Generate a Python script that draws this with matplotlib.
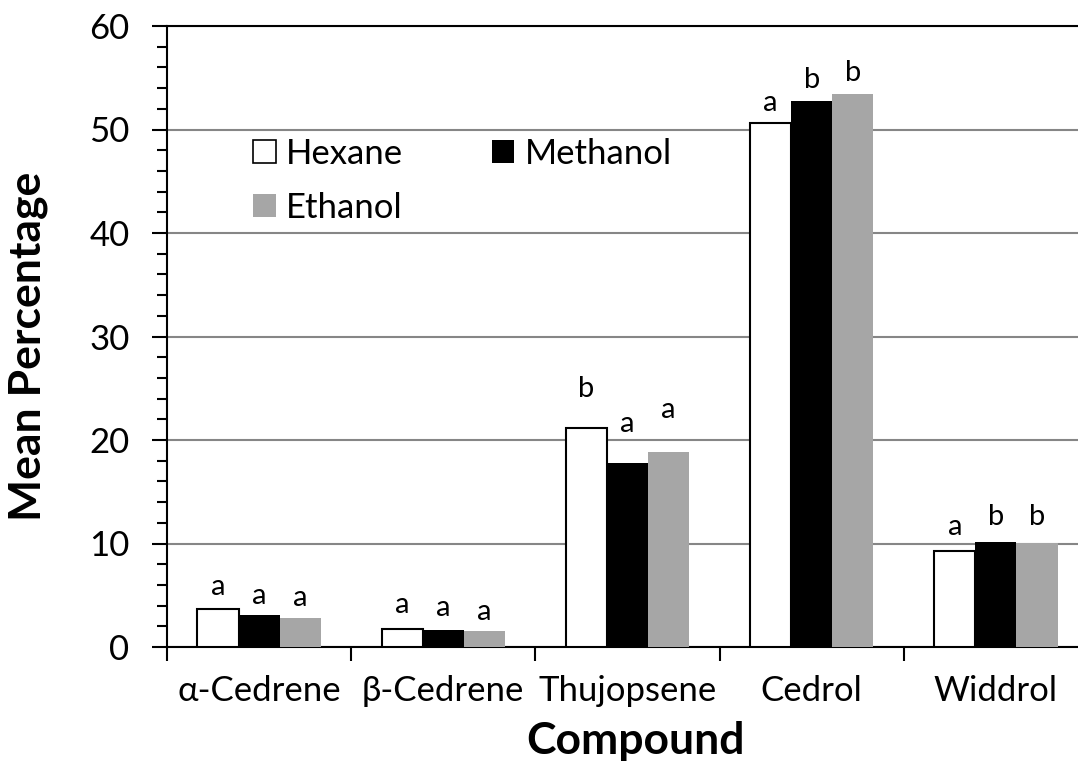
import numpy as np
import matplotlib
matplotlib.use("Agg")
import matplotlib.pyplot as plt
from matplotlib.patches import Patch

plt.rcParams['font.family'] = ['Lato', 'DejaVu Sans']

# Data
compounds = ["α-Cedrene", "β-Cedrene", "Thujopsene", "Cedrol", "Widdrol"]
solvents = ["Hexane", "Methanol", "Ethanol"]
hexane = [3.7, 1.7, 21.2, 50.6, 9.3]
methanol = [3.05, 1.6, 17.8, 52.8, 10.15]
ethanol = [2.8, 1.5, 18.85, 53.4, 10.05]

# significance letters and the height they sit at
hexane_letters = ["a", "a", "b", "a", "a"]
methanol_letters = ["a", "a", "a", "b", "b"]
ethanol_letters = ["a", "a", "a", "b", "b"]
hexane_label_y = [5.8, 4.05, 24.9, 52.6, 11.6]
methanol_label_y = [4.95, 3.75, 21.5, 54.8, 12.6]
ethanol_label_y = [4.75, 3.4, 22.9, 55.5, 12.6]

fig = plt.figure(figsize=(10.78, 7.61), dpi=100)
ax = fig.add_axes([167 / 1078, 114 / 761, 921 / 1078, 621 / 761])

x = np.arange(len(compounds))
w = 0.223
series = [
    (hexane, "white", "black", 1.5, hexane_letters, hexane_label_y),
    (methanol, "black", "black", 0, methanol_letters, methanol_label_y),
    (ethanol, "#a6a6a6", "#a6a6a6", 0, ethanol_letters, ethanol_label_y),
]
handles = []
for k, (vals, fc, ec, lw, letters, ly) in enumerate(series):
    pos = x + (k - 1) * w
    ax.bar(pos, vals, width=w, color=fc, edgecolor=ec, linewidth=lw, zorder=3)
    for xp, lt, yy in zip(pos, letters, ly):
        ax.text(xp, yy, lt, ha="center", va="center", fontsize=21)
    handles.append(Patch(facecolor=fc, edgecolor="black" if k == 0 else fc,
                         linewidth=1.2 if k == 0 else 0, label=solvents[k]))

ax.set_xlim(-0.5, len(compounds) - 0.5)
ax.set_ylim(0, 60)

# y axis
ax.set_yticks(np.arange(0, 61, 10))
ax.set_yticks(np.arange(0, 61, 2), minor=True)
ax.tick_params(axis="y", which="major", length=11, width=1.5, labelsize=25, pad=16)
ax.tick_params(axis="y", which="minor", length=7, width=1.5)
ax.yaxis.grid(True, which="major", color="#868686", linewidth=1.5, zorder=0)

# x axis: ticks at group boundaries, labels in the middle
ax.set_xticks(np.arange(-0.5, len(compounds), 1.0))
ax.set_xticklabels([])
ax.set_xticks(x, minor=True)
ax.set_xticklabels(compounds, minor=True)
ax.tick_params(axis="x", which="major", length=10, width=1.5)
ax.tick_params(axis="x", which="minor", length=0, labelsize=25, pad=20)

ax.spines["right"].set_visible(False)
for s in ["top", "left", "bottom"]:
    ax.spines[s].set_linewidth(1.5)

fig.text(28 / 1078, 1 - 346 / 761, "Mean Percentage", fontsize=32, fontweight="bold",
         rotation=90, ha="center", va="center")
fig.text(636 / 1078, 1 - 741 / 761, "Compound", fontsize=32, fontweight="bold",
         ha="center", va="center")

# legend: Hexane, Methanol on top row, Ethanol below
leg = ax.legend([handles[0], handles[2], handles[1]],
                [solvents[0], solvents[2], solvents[1]],
                ncol=2, frameon=False, fontsize=25,
                loc="upper left", bbox_to_anchor=(253 / 1078, 1 - 138 / 761),
                bbox_transform=fig.transFigure,
                handlelength=0.65, handleheight=0.65, handletextpad=0.3,
                columnspacing=2.55, labelspacing=0.62, borderpad=0, borderaxespad=0)

fig.savefig("out.png", dpi=100)
